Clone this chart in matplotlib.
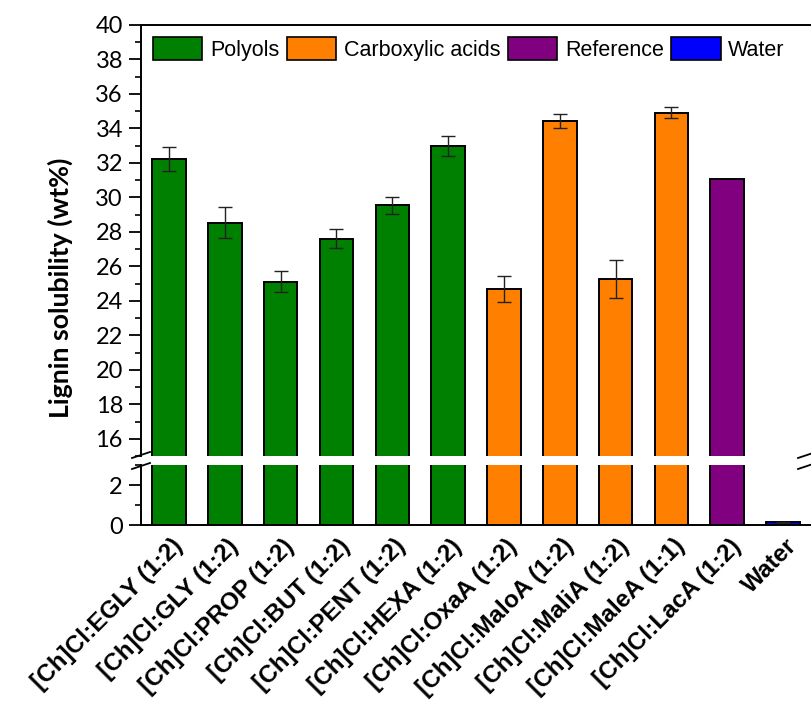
import matplotlib
matplotlib.use("Agg")
import matplotlib.pyplot as plt
import matplotlib.transforms as mtransforms
from matplotlib.patches import Patch
from matplotlib.lines import Line2D

# data
labels = ['[Ch]Cl:EGLY (1:2)', '[Ch]Cl:GLY (1:2)', '[Ch]Cl:PROP (1:2)', '[Ch]Cl:BUT (1:2)',
          '[Ch]Cl:PENT (1:2)', '[Ch]Cl:HEXA (1:2)', '[Ch]Cl:OxaA (1:2)', '[Ch]Cl:MaloA (1:2)',
          '[Ch]Cl:MaliA (1:2)', '[Ch]Cl:MaleA (1:1)', '[Ch]Cl:LacA (1:2)', 'Water']
values = [32.23, 28.54, 25.11, 27.61, 29.54, 32.96, 24.69, 34.42, 25.25, 34.92, 31.09, 0.14]
errors = [0.72, 0.89, 0.60, 0.56, 0.50, 0.58, 0.73, 0.42, 1.09, 0.33, 0.0, 0.03]
groups = ['Polyols'] * 6 + ['Carboxylic acids'] * 4 + ['Reference', 'Water']

group_names = ['Polyols', 'Carboxylic acids', 'Reference', 'Water']
group_colors = {'Polyols': '#008000', 'Carboxylic acids': '#ff8000',
                'Reference': '#800080', 'Water': '#0000ff'}

W, H = 811, 702
fig = plt.figure(figsize=(W / 100, H / 100), dpi=100)

def fx(px):
    return px / W

def fy(py):
    return 1 - py / H

left, right = fx(141), 1.0
ax_top = fig.add_axes([left, fy(456), right - left, fy(25) - fy(456)])
ax_bot = fig.add_axes([left, fy(525), right - left, fy(465) - fy(525)], sharex=ax_top)

x = list(range(len(labels)))
colors = [group_colors[g] for g in groups]
has_err = [i for i in x if errors[i] > 0]

for ax in (ax_top, ax_bot):
    ax.bar(x, values, width=0.6, color=colors, edgecolor='black', linewidth=1.4, zorder=2)
    ax.errorbar(has_err, [values[i] for i in has_err], yerr=[errors[i] for i in has_err],
                fmt='none', ecolor='#222222', elinewidth=1.0, capsize=5, capthick=1.0, zorder=3)
    ax.set_xlim(-0.5, 11.5)
    ax.spines['right'].set_visible(False)
    for s in ax.spines.values():
        s.set_linewidth(1.4)
    ax.tick_params(axis='y', which='major', direction='out', length=9, width=1.3,
                   labelsize=17, pad=4)
    ax.tick_params(axis='y', which='minor', direction='out', length=4.5, width=1.2)

ax_top.set_ylim(15, 40)
ax_top.set_yticks(range(16, 41, 2))
ax_top.set_yticks(range(15, 41, 1), minor=True)
ax_top.spines['bottom'].set_visible(False)
ax_top.tick_params(axis='x', which='both', bottom=False, labelbottom=False)

ax_bot.set_ylim(0, 3)
ax_bot.set_yticks([0, 2])
ax_bot.set_yticks([1, 3], minor=True)
ax_bot.spines['top'].set_visible(False)
ax_bot.set_xticks(x)
ax_bot.set_xticklabels(labels, rotation=45, ha='right', va='top', rotation_mode='anchor',
                       fontsize=17.5, fontweight='bold', fontfamily='Liberation Sans')
ax_bot.tick_params(axis='x', which='both', length=0, pad=7)
offset = mtransforms.ScaledTranslation(0.02, 0, fig.dpi_scale_trans)
for t in ax_bot.get_xticklabels():
    t.set_transform(t.get_transform() + offset)

for ax in (ax_top, ax_bot):
    for t in ax.get_yticklabels():
        t.set_fontfamily('Lato')

# y label spanning both panels
fig.text(fx(60), fy(288), 'Lignin solubility (wt%)', rotation=90, ha='center', va='center',
         fontsize=19.3, fontweight='bold', fontfamily='Lato')

# axis break marks
for bx in (141, 807):
    for by in (455, 466):
        fig.add_artist(Line2D([fx(bx - 9), fx(bx + 9)], [fy(by + 3), fy(by - 3)],
                              color='black', linewidth=1.3))

handles = [Patch(facecolor=group_colors[g], edgecolor='black', linewidth=1.2, label=g)
           for g in group_names]
ax_top.legend(handles=handles, loc='upper left', ncol=4, frameon=False,
              bbox_to_anchor=(0.0, 1.0), borderaxespad=0.3,
              prop={'family': 'Liberation Sans', 'size': 15.5},
              handlelength=2.3, handleheight=1.3, handletextpad=0.35,
              columnspacing=0.35, borderpad=0.25)

fig.savefig('out.png', dpi=100)
